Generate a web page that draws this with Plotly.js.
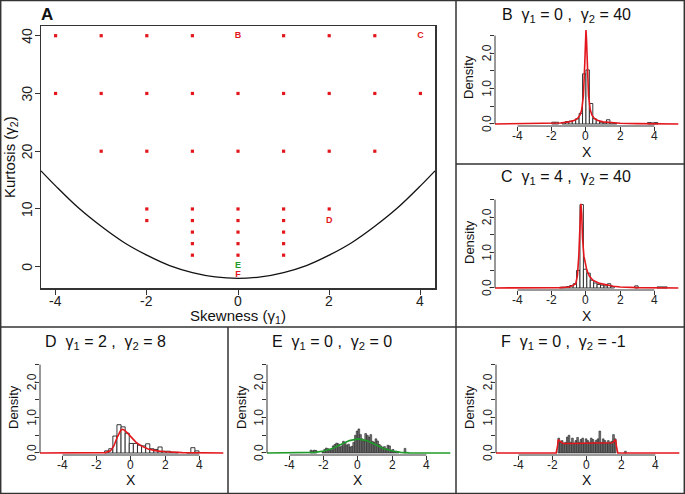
<!DOCTYPE html>
<html><head><meta charset="utf-8">
<script src="https://cdn.plot.ly/plotly-3.0.1.min.js"></script>
<style>html,body{margin:0;padding:0;background:#fff}#plot{width:685px;height:494px}</style>
</head><body><div id="plot"></div>
<script>
// ---------- Panel A data ----------
const dotX = [-4,-3,-2,-1,1,2,3, -4,-3,-2,-1,0,1,2,3,4, -3,-2,-1,0,1,2,3, -2,-1,0,1,2, -2,-1,0,1, -1,0,1, -1,0,1, -1,0,1];
const dotY = [40,40,40,40,40,40,40, 30,30,30,30,30,30,30,30,30, 20,20,20,20,20,20,20, 10,10,10,10,10, 8,8,8,8, 6,6,6, 4,4,4, 2,2,2];
const boundX = [-4.32,-4,-3.5,-3,-2.5,-2,-1.5,-1,-0.5,0,0.5,1,1.5,2,2.5,3,3.5,4,4.32];
const boundY = [16.6,14,10.2,7,4.2,2,0.2,-1,-1.75,-2,-1.75,-1,0.2,2,4.2,7,10.2,14,16.6];
const labelX = [0,4,2,0,0];
const labelY = [40,40,8,0.1,-1.4];
const labelText = ['B','C','D','E','F'];
const labelColor = ['#e3161c','#e3161c','#e3161c','#1f9a2a','#e3161c'];

// ---------- Histogram panels ----------
const Bx = [-1.9,-1.7,-1.3,-1.1,-0.9,-0.7,-0.5,-0.3,-0.1,0.1,0.3,0.5,0.7,0.9,1.1,1.3,1.5,1.7,3.7,3.9,4.1];
const By = [0.05,0.05,0.03,0.07,0.08,0.1,0.15,0.3,1.42,1.53,0.58,0.15,0.1,0.05,0.03,0.12,0.03,0.02,0.04,0.03,0.04];
const Bcx = [-5.4,-3,-2,-1.5,-1,-0.7,-0.5,-0.35,-0.25,-0.15,-0.08,-0.03,0,0.03,0.08,0.15,0.25,0.35,0.5,0.7,1,1.5,2,3,5.4];
const Bcy = [0,0.01,0.02,0.03,0.06,0.1,0.15,0.25,0.4,0.8,1.6,2.4,2.66,2.4,1.6,0.8,0.4,0.25,0.15,0.1,0.06,0.03,0.02,0.01,0];

const Cx = [-1.45,-1.25,-1.05,-0.85,-0.65,-0.45,-0.25,-0.05,0.15,0.35,0.55,0.75,0.95,1.15,1.35,1.55,2.95,4.25,4.45,4.65];
const Cy = [0.02,0.02,0.04,0.07,0.12,0.5,2.36,0.53,0.42,0.22,0.14,0.1,0.08,0.06,0.12,0.04,0.06,0.03,0.03,0.03];
const Ccx = [-5.4,-2,-1.5,-1,-0.8,-0.6,-0.5,-0.42,-0.36,-0.3,-0.25,-0.2,-0.12,-0.05,0.05,0.2,0.4,0.8,1.2,1.6,2,3,5.4];
const Ccy = [0,0.005,0.01,0.03,0.06,0.12,0.35,0.9,1.7,2.38,2.1,1.4,0.9,0.68,0.5,0.34,0.22,0.13,0.08,0.05,0.03,0.01,0];

const Dx = [-1.42,-1.18,-0.94,-0.70,-0.46,-0.22,0.02,0.26,0.50,0.74,0.98,1.22,1.46,1.70,1.94,2.18,2.42,2.66,3.38,3.62,3.86];
const Dy = [0.06,0.12,0.48,0.8,0.74,0.56,0.27,0.27,0.22,0.2,0.26,0.12,0.1,0.17,0.05,0.05,0.02,0.02,0.01,0.15,0.06];
const Dcx = [-5.4,-2,-1.5,-1.2,-1,-0.8,-0.6,-0.5,-0.4,-0.2,0,0.3,0.6,1,1.5,2,3,5.4];
const Dcy = [0,0,0.01,0.06,0.2,0.45,0.64,0.67,0.65,0.56,0.46,0.3,0.2,0.11,0.06,0.035,0.01,0];

const Ex = [-2.75,-2.65,-2.55,-2.45,-2.05,-1.95,-1.85,-1.75,-1.65,-1.55,-1.45,-1.35,-1.25,-1.15,-1.05,-0.95,-0.85,-0.75,-0.65,-0.55,-0.45,-0.35,-0.25,-0.15,-0.05,0.05,0.15,0.25,0.35,0.45,0.55,0.65,0.75,0.85,0.95,1.05,1.15,1.25,1.35,1.45,1.55,1.65,1.75,1.85,1.95,2.05,2.15,2.25,2.35,2.75];
const Ey = [0.08,0.06,0.08,0.07,0.03,0.1,0.14,0.12,0.08,0.09,0.2,0.24,0.28,0.26,0.17,0.2,0.33,0.3,0.22,0.25,0.17,0.19,0.3,0.5,0.62,0.68,0.52,0.4,0.34,0.55,0.5,0.45,0.52,0.33,0.3,0.4,0.34,0.24,0.2,0.16,0.18,0.12,0.22,0.2,0.08,0.1,0.04,0.05,0.03,0.13];
const Ecx = [-5.4,-3,-2.5,-2,-1.5,-1,-0.5,0,0.5,1,1.5,2,2.5,3,5.4];
const Ecy = [0,0.004,0.018,0.054,0.13,0.24,0.35,0.40,0.35,0.24,0.13,0.054,0.018,0.004,0];

const Fx = [-1.65,-1.55,-1.45,-1.35,-1.25,-1.15,-1.05,-0.95,-0.85,-0.75,-0.65,-0.55,-0.45,-0.35,-0.25,-0.15,-0.05,0.05,0.15,0.25,0.35,0.45,0.55,0.65,0.75,0.85,0.95,1.05,1.15,1.25,1.35,1.45,1.55,1.65,2.25];
const Fy = [0.42,0.3,0.35,0.28,0.3,0.45,0.5,0.3,0.42,0.28,0.35,0.44,0.3,0.38,0.42,0.28,0.4,0.35,0.3,0.42,0.38,0.3,0.36,0.4,0.62,0.3,0.4,0.35,0.28,0.35,0.3,0.33,0.52,0.4,0.05];
const Fcx = [-5.4,-1.8,-1.72,-1.68,-1.6,-1.5,-1.4,-1,0,1,1.4,1.5,1.6,1.68,1.72,1.8,5.4];
const Fcy = [0,0,0.2,0.38,0.34,0.29,0.27,0.27,0.27,0.27,0.27,0.29,0.34,0.38,0.2,0,0];

const panelTitles = ['B  γ<sub>1</sub> = 0 ,  γ<sub>2</sub> = 40','C  γ<sub>1</sub> = 4 ,  γ<sub>2</sub> = 40','D  γ<sub>1</sub> = 2 ,  γ<sub>2</sub> = 8','E  γ<sub>1</sub> = 0 ,  γ<sub>2</sub> = 0','F  γ<sub>1</sub> = 0 ,  γ<sub>2</sub> = -1'];
const xTicks = [-4,-2,0,2,4];
const xTickText = ['-4','-2','0','2','4'];
const yTicks = [0,0.5,1,1.5,2,2.5];
const yLabelVals = [0,1,2];
const yLabelText = ['0.0','1.0','2.0'];
const aXTicks = [-4,-2,0,2,4];
const aXTickText = ['-4','-2','0','2','4'];
const aYTicks = [0,10,20,30,40];
const aYTickText = ['0','10','20','30','40'];

// ---------- Layout helpers ----------
const W = 685, H = 494;
const px = v => v / W;
const py = v => 1 - v / H;
const FONT = 'Liberation Sans, Arial, Helvetica, sans-serif';
const RED = '#e3161c', GREEN = '#1f9a2a', AX = '#333';

const traces = [];
traces.push({type:'scatter', mode:'lines', x:boundX, y:boundY, line:{color:'#111', width:1.3, shape:'spline', smoothing:1}, xaxis:'x', yaxis:'y', hoverinfo:'skip'});
traces.push({type:'scatter', mode:'markers', x:dotX, y:dotY, marker:{color:RED, size:3.2, symbol:'square'}, xaxis:'x', yaxis:'y'});
traces.push({type:'scatter', mode:'text', x:labelX, y:labelY, text:labelText.map(t=>'<b>'+t+'</b>'), textfont:{family:FONT, size:9, color:labelColor}, textposition:'middle center', xaxis:'x', yaxis:'y'});

const panels = [
  {bx:Bx, by:By, w:0.2, fill:'#ffffff', lw:0.9, cx:Bcx, cy:Bcy, cc:RED, n:2, xd:[495,679], yd:[126,28], title:[566,15], dens:[469,77], xl:[587,152]},
  {bx:Cx, by:Cy, w:0.2, fill:'#ffffff', lw:0.9, cx:Ccx, cy:Ccy, cc:RED, n:3, xd:[495,679], yd:[290,192], title:[566,178], dens:[469,242], xl:[587,316]},
  {bx:Dx, by:Dy, w:0.24, fill:'#ffffff', lw:0.9, cx:Dcx, cy:Dcy, cc:RED, n:4, xd:[40,224], yd:[455,357], title:[105,342], dens:[13,407], xl:[131,480]},
  {bx:Ex, by:Ey, w:0.1, fill:'#7a7a7a', lw:0.6, cx:Ecx, cy:Ecy, cc:GREEN, n:5, xd:[267,451], yd:[455,357], title:[332,342], dens:[241,407], xl:[358,480]},
  {bx:Fx, by:Fy, w:0.1, fill:'#7a7a7a', lw:0.6, cx:Fcx, cy:Fcy, cc:RED, n:6, xd:[496,680], yd:[455,357], title:[563,342], dens:[469,407], xl:[587,480]}
];

const layout = {
  width:W, height:H, margin:{l:0,r:0,t:0,b:0}, showlegend:false,
  paper_bgcolor:'#fff', plot_bgcolor:'rgba(0,0,0,0)', font:{family:FONT, color:'#222'},
  bargap:0,
  xaxis:{domain:[px(41),px(435)], range:[-4.32,4.32], tickvals:aXTicks, showticklabels:false, ticks:'outside', ticklen:5, tickcolor:AX, showline:true, mirror:true, linecolor:AX, linewidth:1.5, showgrid:false, zeroline:false, anchor:'y'},
  yaxis:{domain:[py(288),py(26)], range:[-3.68,41.68], tickvals:aYTicks, showticklabels:false, ticks:'outside', ticklen:5, tickcolor:AX, showline:true, mirror:true, linecolor:AX, linewidth:1.5, showgrid:false, zeroline:false, anchor:'x'},
  shapes:[], annotations:[]
};

const ann = (x,y,text,size,extra) => Object.assign({xref:'paper', yref:'paper', x:px(x), y:py(y), text:text, showarrow:false, xanchor:'center', yanchor:'middle', font:{family:FONT, size:size, color:'#111'}}, extra||{});

layout.annotations.push(ann(47,14,'<b>A</b>',17));
layout.annotations.push(ann(238,316,'Skewness (γ<sub>1</sub>)',15));
layout.annotations.push(ann(11,157,'Kurtosis (γ<sub>2</sub>)',15,{textangle:-90}));
aXTicks.forEach((v,k) => layout.annotations.push({xref:'x', yref:'y domain', x:v, y:0, yshift:-13, text:aXTickText[k], showarrow:false, xanchor:'center', yanchor:'middle', font:{family:FONT, size:14, color:'#222'}}));
aYTicks.forEach((v,k) => layout.annotations.push({xref:'x domain', yref:'y', x:0, y:v, xshift:-14, text:aYTickText[k], textangle:-90, showarrow:false, xanchor:'center', yanchor:'middle', font:{family:FONT, size:14, color:'#222'}}));

panels.forEach((p,i) => {
  const xa = 'x'+p.n, ya = 'y'+p.n;
  traces.push({type:'bar', x:p.bx, y:p.by, width:p.bx.map(()=>p.w), marker:{color:p.fill, line:{color:'#222', width:p.lw}}, xaxis:xa, yaxis:ya, hoverinfo:'skip'});
  traces.push({type:'scatter', mode:'lines', x:p.cx, y:p.cy, line:{color:p.cc, width:1.6}, xaxis:xa, yaxis:ya, hoverinfo:'skip'});
  layout['xaxis'+p.n] = {domain:[px(p.xd[0]),px(p.xd[1])], range:[-5.32,5.44], tickvals:xTicks, showticklabels:false, ticks:'outside', ticklen:4, tickcolor:AX, showline:false, showgrid:false, zeroline:false, anchor:ya};
  layout['yaxis'+p.n] = {domain:[py(p.yd[0]),py(p.yd[1])], range:[-0.057,2.716], tickvals:yTicks, showticklabels:false, ticks:'outside', ticklen:4, tickcolor:AX, showline:false, showgrid:false, zeroline:false, anchor:xa};
  layout.shapes.push({type:'line', xref:xa+' domain', yref:ya, x0:0, x1:0, y0:yTicks[0], y1:yTicks[yTicks.length-1], line:{color:AX, width:1}});
  layout.shapes.push({type:'line', xref:xa, yref:ya+' domain', x0:xTicks[0], x1:xTicks[xTicks.length-1], y0:0, y1:0, line:{color:AX, width:1}, layer:'below'});
  xTicks.forEach((v,k) => layout.annotations.push({xref:xa, yref:ya+' domain', x:v, y:0, yshift:-10, text:xTickText[k], showarrow:false, xanchor:'center', yanchor:'middle', font:{family:FONT, size:12, color:'#222'}}));
  yLabelVals.forEach((v,k) => layout.annotations.push({xref:xa+' domain', yref:ya, x:0, y:v, xshift:-8, text:yLabelText[k], textangle:-90, showarrow:false, xanchor:'center', yanchor:'middle', font:{family:FONT, size:12, color:'#222'}}));
  layout.annotations.push(ann(p.title[0],p.title[1],panelTitles[i],16));
  layout.annotations.push(ann(p.dens[0],p.dens[1],'Density',13,{textangle:-90}));
  layout.annotations.push(ann(p.xl[0],p.xl[1],'X',14));
});

const BL = {color:'#333', width:1.5};
layout.shapes.push({type:'rect', xref:'paper', yref:'paper', x0:0.001, x1:0.999, y0:0.001, y1:0.999, line:BL});
layout.shapes.push({type:'line', xref:'paper', yref:'paper', x0:px(456), x1:px(456), y0:0, y1:1, line:BL});
layout.shapes.push({type:'line', xref:'paper', yref:'paper', x0:px(456), x1:1, y0:py(164), y1:py(164), line:BL});
layout.shapes.push({type:'line', xref:'paper', yref:'paper', x0:0, x1:1, y0:py(327), y1:py(327), line:BL});
layout.shapes.push({type:'line', xref:'paper', yref:'paper', x0:px(228), x1:px(228), y0:0, y1:py(327), line:BL});

Plotly.newPlot('plot', traces, layout, {staticPlot:true, displayModeBar:false});
</script></body></html>
